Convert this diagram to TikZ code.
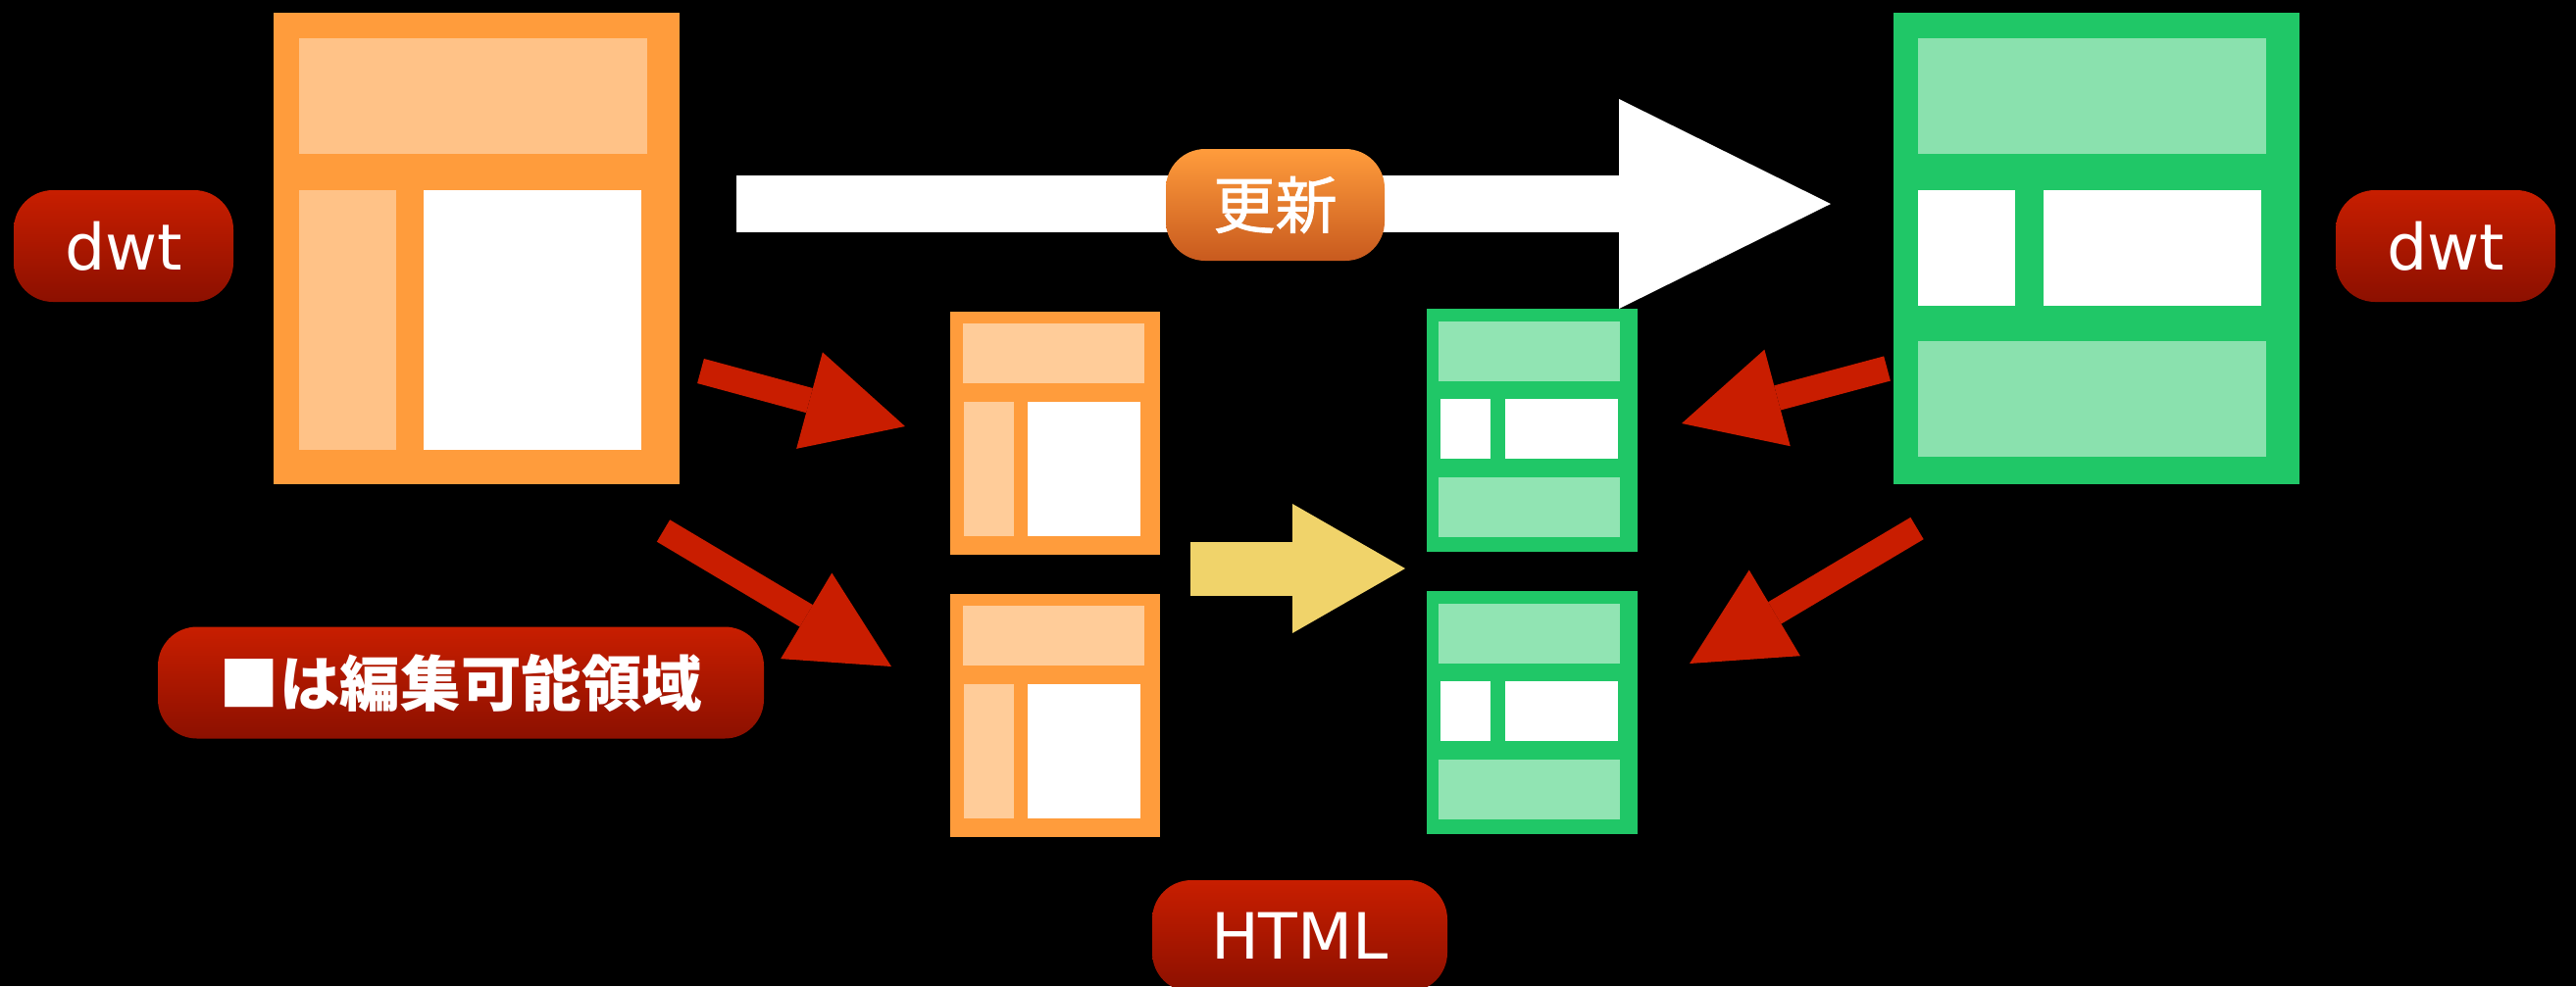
\documentclass[tikz,border=0pt]{standalone}
\usepackage{fontspec}
\setmainfont{DejaVu Sans}
\newfontfamily\jpfont{Noto Sans CJK JP}
\newfontfamily\jpmed{Noto Sans CJK JP}[FakeBold=1.2]
\usepackage{tikz}
\usetikzlibrary{arrows.meta,positioning,calc}
\definecolor{pgorange}{HTML}{FF9C3C}
\definecolor{pgorangelt}{HTML}{FFC287}
\definecolor{pgorangesm}{HTML}{FFCC99}
\definecolor{pggreen}{HTML}{20C767}
\definecolor{pggreenlt}{HTML}{8AE1AE}
\definecolor{pggreensm}{HTML}{91E4B3}
\definecolor{pillredtop}{HTML}{C81E00}
\definecolor{pillredbot}{HTML}{8C1000}
\definecolor{pillorgtop}{HTML}{FF9C3C}
\definecolor{pillorgbot}{HTML}{C85A1E}
\definecolor{arrowred}{HTML}{C91D00}
\definecolor{arrowgold}{HTML}{F0D36A}
\tikzset{
  orangepage/.style={fill=pgorange,inner sep=0pt},
  greenpage/.style={fill=pggreen,inner sep=0pt},
  redpill/.style={rounded corners=4mm,minimum height=11.4mm,inner sep=0pt,
    text=white,top color=pillredtop,bottom color=pillredbot,
    font=\fontsize{18.5}{20}\selectfont},
  orangepill/.style={rounded corners=4mm,minimum height=11.4mm,inner sep=0pt,
    text=white,top color=pillorgtop,bottom color=pillorgbot,
    font=\jpmed\fontsize{18}{20}\selectfont},
  fatarrow/.style={arrowred,line width=2.6mm,
    -{Triangle[length=10.1mm,width=10.2mm,line width=0pt]}},
  bigarrow/.style={white,line width=5.8mm,
    -{Triangle[length=21.6mm,width=21.4mm,line width=0pt]}},
  goldarrow/.style={arrowgold,line width=5.5mm,
    -{Triangle[length=11.5mm,width=13.2mm,line width=0pt]}}
}

\begin{document}
\begin{tikzpicture}[x=0.1mm,y=-0.1mm]
  \useasboundingbox (0,0) rectangle (2627,1006);
  \clip (0,0) rectangle (2627,1006);
  \fill[black] (0,0) rectangle (2627,1006);

  % dwt templates
  \node[orangepage,minimum width=41.4mm,minimum height=48.1mm,anchor=north west] (olddwt) at (278,12) {};
  \fill[pgorangelt] (305,39) rectangle (660,157);
  \fill[pgorangelt] (305,194) rectangle (404,459);
  \fill[white] (432,194) rectangle (654,459);

  \node[greenpage,minimum width=41.4mm,minimum height=48.1mm,anchor=north west] (newdwt) at (1930,12) {};
  \fill[pggreenlt] (1956,39) rectangle (2311,157);
  \fill[white] (1956,194) rectangle (2055,312);
  \fill[white] (2084,194) rectangle (2306,312);
  \fill[pggreenlt] (1956,348) rectangle (2311,466);

  % html pages
  \foreach \y/\n in {317/1,605/2} {
    \node[orangepage,minimum width=21.4mm,minimum height=24.8mm,anchor=north west] (oldhtml\n) at (968,\y) {};
    \fill[pgorangesm] (982,\y+13) rectangle (1167,\y+74);
    \fill[pgorangesm] (983,\y+93) rectangle (1034,\y+230);
    \fill[white] (1048,\y+93) rectangle (1163,\y+230);
  }
  \foreach \y/\n in {314/1,602/2} {
    \node[greenpage,minimum width=21.5mm,minimum height=24.8mm,anchor=north west] (newhtml\n) at (1454,\y) {};
    \fill[pggreensm] (1467,\y+14) rectangle (1652,\y+75);
    \fill[white] (1469,\y+93) rectangle (1520,\y+154);
    \fill[white] (1535,\y+93) rectangle (1650,\y+154);
    \fill[pggreensm] (1467,\y+173) rectangle (1652,\y+234);
  }

  % update arrow
  \coordinate (upd-s) at (751,208);
  \coordinate (upd-e) at (1867,208);
  \draw[bigarrow] (upd-s) -- (upd-e);
  \node[orangepill,minimum width=22.3mm] (update) at (1300.5,209) {更新};

  % regenerate arrow
  \coordinate (gen-s) at (1214,580);
  \coordinate (gen-e) at (1433,580);
  \draw[goldarrow] (gen-s) -- (gen-e);

  % red arrows
  \coordinate (ra-s) at (714.5,378.5);
  \coordinate (ra-e) at (923,435);
  \coordinate (rb-s) at (676.5,541.5);
  \coordinate (rb-e) at (909,680);
  \coordinate (rc-s) at (1924.5,376);
  \coordinate (rc-e) at (1715,432);
  \coordinate (rd-s) at (1955,539);
  \coordinate (rd-e) at (1723,677);
  \draw[fatarrow] (ra-s) -- (ra-e);
  \draw[fatarrow] (rb-s) -- (rb-e);
  \draw[fatarrow] (rc-s) -- (rc-e);
  \draw[fatarrow] (rd-s) -- (rd-e);

  % labels
  \node[redpill,minimum width=22.4mm] (dwtold) at (126,251) {dwt};
  \node[redpill,minimum width=22.4mm] (dwtnew) at (2494,251) {dwt};
  \node[redpill,minimum width=61.8mm,font=\jpfont\bfseries\fontsize{17.5}{20}\selectfont]
    (editable) at (470,696.5) {■は編集可能領域};
  \node[redpill,minimum width=30.1mm] (html) at (1325.5,955) {HTML};
\end{tikzpicture}
\end{document}
